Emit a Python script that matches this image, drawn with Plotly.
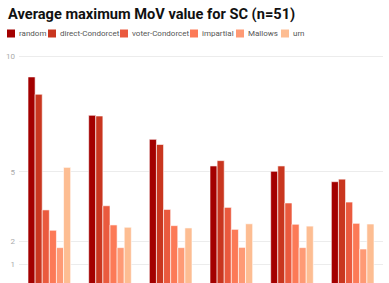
import plotly.graph_objects as go

title_text = "Average maximum MoV value for SC (n=51)"
groups = ["g1", "g2", "g3", "g4", "g5", "g6"]
series_names = ["random", "direct-Condorcet", "voter-Condorcet", "impartial", "Mallows", "urn"]
random_vals = [9.1, 7.44, 6.40, 5.25, 5.02, 4.57]
direct_vals = [8.35, 7.41, 6.18, 5.48, 5.25, 4.68]
voter_vals = [3.35, 3.53, 3.37, 3.46, 3.65, 3.69]
impartial_vals = [2.47, 2.70, 2.67, 2.51, 2.73, 2.77]
mallows_vals = [1.72, 1.72, 1.72, 1.73, 1.72, 1.66]
urn_vals = [5.19, 2.60, 2.57, 2.75, 2.65, 2.74]
y_ticks = [1, 2, 5, 10]

series_vals = [random_vals, direct_vals, voter_vals, impartial_vals, mallows_vals, urn_vals]
colors = ["#a30000", "#c9361f", "#ea5a3e", "#fc7a57", "#fe9a75", "#fdbd92"]

W, H = 389, 283
ML, MR, MT, MB = 19, 6, 48, 0
PW, PH = W - ML - MR, H - MT - MB


def px_x(x):
    return (x - ML) / PW


def px_y(y):
    return (H - MB - y) / PH


fig = go.Figure()
for name, vals, col in zip(series_names, series_vals, colors):
    fig.add_trace(go.Bar(
        x=groups, y=vals, name=name,
        marker=dict(color=col, line=dict(color="rgba(255,255,255,0.6)", width=1)),
        showlegend=False, hoverinfo="skip",
    ))

shapes = []
annotations = [dict(
    text="<b>" + title_text + "</b>", x=px_x(6), y=px_y(14), xref="paper", yref="paper",
    xanchor="left", yanchor="middle", showarrow=False,
    font=dict(family="Roboto", size=14.6, color="#111"),
)]
legend_x = [7, 48, 120, 190, 236, 281]
for name, col, lx in zip(series_names, colors, legend_x):
    shapes.append(dict(type="rect", xref="paper", yref="paper",
                       x0=px_x(lx), x1=px_x(lx + 8), y0=px_y(37.5), y1=px_y(29.5),
                       fillcolor=col, line=dict(width=0)))
    annotations.append(dict(text=name, x=px_x(lx + 10), y=px_y(33.5), xref="paper", yref="paper",
                            xanchor="left", yanchor="middle", showarrow=False,
                            font=dict(family="Roboto", size=8, color="#555")))

fig.update_layout(
    width=W, height=H,
    margin=dict(l=ML, r=MR, t=MT, b=MB),
    paper_bgcolor="white", plot_bgcolor="white",
    barmode="group", bargap=0.297, bargroupgap=0,
    shapes=shapes, annotations=annotations,
    xaxis=dict(showticklabels=False, showgrid=False, zeroline=False, showline=False),
    yaxis=dict(range=[0.19, 10.35], tickvals=y_ticks, ticktext=[str(v) for v in y_ticks],
               showgrid=True, gridcolor="#ececec", gridwidth=1, zeroline=False, showline=False,
               tickfont=dict(family="Roboto", size=8, color="#aaa"), ticks="", ticklabelstandoff=3),
)

fig.write_html("out.html", config={"displayModeBar": False},
               post_script="document.body.style.margin='0';document.body.style.overflow='hidden';")
